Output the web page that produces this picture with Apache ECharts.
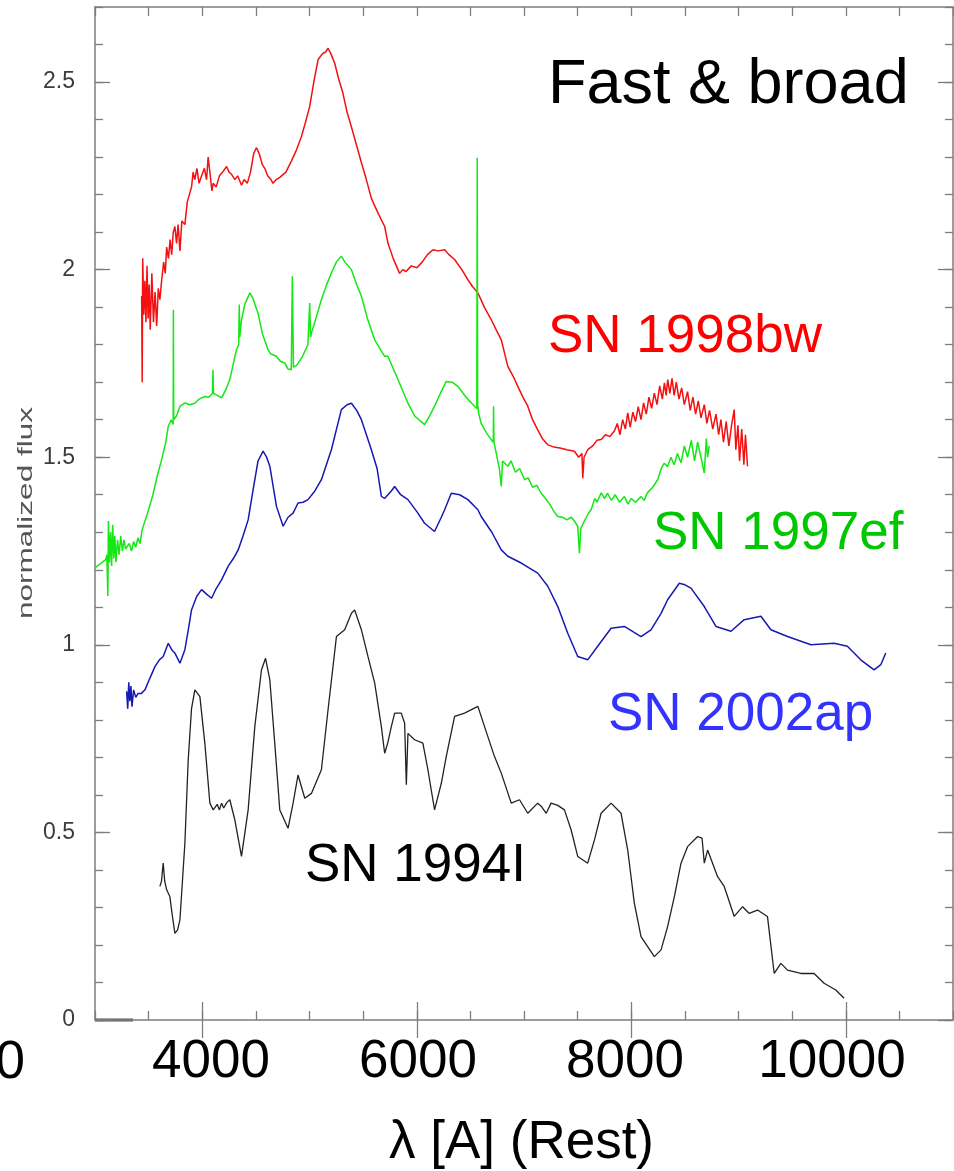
<!DOCTYPE html>
<html>
<head>
<meta charset="utf-8">
<script src="https://cdn.jsdelivr.net/npm/echarts@6/dist/echarts.min.js"></script>
<style>
html, body { margin: 0; padding: 0; background: #fff; }
#main { width: 954px; height: 1171px; }
</style>
</head>
<body>
<div id="main"></div>
<script>
// wavelength [A], normalized flux (offset spectra as in the plot)
var sn1998bw = [[3435,1.93],[3440,1.70],[3445,2.03],[3455,1.88],[3465,1.97],[3475,1.86],[3485,2.01],[3495,1.87],[3505,1.96],[3515,1.84],[3530,1.99],[3545,1.86],[3560,1.94],[3575,1.85],[3590,1.95],[3605,1.92],[3621,1.97],[3640,2.02],[3655,1.99],[3668,2.06],[3685,2.03],[3700,2.08],[3715,2.04],[3730,2.10],[3745,2.115],[3760,2.07],[3775,2.12],[3792,2.05],[3810,2.13],[3838,2.12],[3860,2.18],[3880,2.20],[3900,2.22],[3915,2.26],[3931,2.24],[3950,2.27],[3970,2.23],[3994,2.25],[4020,2.27],[4040,2.24],[4055,2.30],[4075,2.25],[4090,2.21],[4102,2.23],[4130,2.22],[4160,2.25],[4190,2.26],[4227,2.275],[4250,2.26],[4270,2.255],[4304,2.24],[4330,2.25],[4366,2.225],[4390,2.24],[4420,2.23],[4450,2.26],[4480,2.31],[4506,2.325],[4530,2.31],[4560,2.28],[4583,2.27],[4610,2.25],[4640,2.24],[4660,2.23],[4690,2.24],[4720,2.245],[4739,2.25],[4780,2.26],[4832,2.29],[4880,2.32],[4925,2.355],[4960,2.39],[5002,2.435],[5040,2.50],[5080,2.56],[5120,2.575],[5150,2.58],[5173,2.59],[5200,2.575],[5235,2.55],[5270,2.51],[5312,2.47],[5350,2.42],[5391,2.38],[5440,2.33],[5484,2.285],[5530,2.24],[5577,2.19],[5640,2.15],[5701,2.115],[5732,2.07],[5780,2.03],[5840,1.99],[5870,2.00],[5900,1.995],[5949,2.01],[6000,2.005],[6050,2.02],[6100,2.04],[6151,2.053],[6200,2.05],[6260,2.053],[6300,2.04],[6353,2.027],[6420,2.00],[6477,1.973],[6520,1.955],[6570,1.938],[6630,1.90],[6694,1.867],[6740,1.84],[6788,1.813],[6849,1.742],[6900,1.715],[6942,1.689],[6990,1.66],[7035,1.636],[7080,1.60],[7128,1.573],[7170,1.55],[7222,1.533],[7280,1.527],[7346,1.524],[7400,1.52],[7470,1.516],[7510,1.50],[7540,1.51],[7548,1.444],[7560,1.50],[7594,1.52],[7640,1.53],[7680,1.545],[7719,1.547],[7760,1.56],[7800,1.555],[7843,1.57],[7870,1.59],[7895,1.56],[7920,1.60],[7945,1.575],[7967,1.618],[7990,1.58],[8015,1.62],[8040,1.595],[8065,1.635],[8091,1.60],[8115,1.645],[8140,1.615],[8165,1.66],[8190,1.63],[8215,1.671],[8240,1.64],[8265,1.69],[8290,1.655],[8309,1.698],[8325,1.665],[8340,1.707],[8360,1.67],[8380,1.71],[8400,1.665],[8420,1.70],[8445,1.655],[8470,1.685],[8495,1.64],[8525,1.675],[8550,1.625],[8575,1.66],[8600,1.615],[8625,1.65],[8650,1.605],[8681,1.64],[8705,1.59],[8730,1.625],[8760,1.575],[8790,1.615],[8815,1.56],[8836,1.60],[8860,1.54],[8885,1.595],[8910,1.53],[8935,1.585],[8960,1.627],[8975,1.52],[8995,1.585],[9010,1.49],[9030,1.575],[9050,1.48],[9065,1.56],[9084,1.476]];

var sn1997ef = [[3000,1.205],[3100,1.227],[3110,1.24],[3120,1.13],[3125,1.33],[3135,1.22],[3145,1.30],[3155,1.21],[3165,1.32],[3175,1.23],[3185,1.29],[3195,1.22],[3210,1.28],[3225,1.24],[3240,1.29],[3255,1.25],[3270,1.28],[3285,1.255],[3300,1.262],[3320,1.27],[3340,1.25],[3360,1.275],[3380,1.26],[3400,1.285],[3420,1.27],[3440,1.307],[3466,1.33],[3500,1.36],[3540,1.40],[3580,1.45],[3621,1.493],[3660,1.54],[3683,1.582],[3710,1.60],[3729,1.587],[3731,1.893],[3734,1.60],[3760,1.61],[3792,1.636],[3840,1.645],[3880,1.64],[3931,1.644],[3970,1.655],[4024,1.662],[4060,1.66],[4095,1.67],[4100,1.733],[4105,1.67],[4140,1.665],[4180,1.658],[4220,1.68],[4257,1.707],[4290,1.75],[4320,1.787],[4340,1.80],[4345,1.907],[4350,1.82],[4366,1.867],[4400,1.91],[4444,1.938],[4470,1.925],[4520,1.884],[4560,1.83],[4613,1.787],[4640,1.775],[4692,1.769],[4730,1.755],[4770,1.751],[4800,1.735],[4830,1.733],[4840,1.982],[4850,1.74],[4880,1.745],[4935,1.769],[4985,1.80],[5002,1.911],[5010,1.82],[5018,1.831],[5060,1.87],[5111,1.92],[5160,1.96],[5204,1.991],[5250,2.02],[5297,2.036],[5330,2.02],[5391,2.0],[5440,1.96],[5484,1.929],[5540,1.87],[5608,1.813],[5701,1.769],[5731,1.769],[5825,1.707],[5918,1.644],[5980,1.61],[6073,1.587],[6120,1.61],[6166,1.636],[6220,1.67],[6275,1.702],[6330,1.70],[6383,1.689],[6460,1.66],[6539,1.636],[6560,1.63],[6564,2.298],[6568,1.64],[6576,1.618],[6601,1.59],[6650,1.565],[6694,1.547],[6714,1.54],[6716,1.636],[6720,1.54],[6741,1.511],[6770,1.47],[6788,1.422],[6800,1.49],[6849,1.476],[6880,1.49],[6920,1.46],[6960,1.47],[7005,1.44],[7040,1.445],[7080,1.42],[7120,1.425],[7160,1.404],[7200,1.39],[7240,1.375],[7280,1.355],[7315,1.342],[7360,1.34],[7400,1.333],[7440,1.34],[7470,1.33],[7501,1.316],[7517,1.244],[7530,1.31],[7563,1.33],[7600,1.35],[7626,1.36],[7660,1.39],[7680,1.38],[7720,1.405],[7750,1.39],[7780,1.404],[7815,1.385],[7850,1.40],[7890,1.38],[7936,1.395],[7970,1.375],[8000,1.39],[8040,1.38],[8091,1.395],[8120,1.385],[8150,1.405],[8200,1.42],[8246,1.44],[8280,1.47],[8308,1.484],[8339,1.475],[8370,1.50],[8400,1.48],[8430,1.51],[8464,1.485],[8495,1.53],[8525,1.50],[8560,1.545],[8590,1.49],[8619,1.54],[8650,1.50],[8681,1.458],[8700,1.55],[8712,1.50],[8727,1.53]];

var sn2002ap = [[3295,0.876],[3305,0.83],[3315,0.90],[3325,0.85],[3335,0.89],[3345,0.835],[3360,0.88],[3380,0.86],[3400,0.87],[3430,0.87],[3466,0.88],[3510,0.91],[3559,0.942],[3600,0.96],[3636,0.969],[3683,1.004],[3720,0.985],[3745,0.978],[3792,0.951],[3807,0.951],[3838,0.987],[3870,1.04],[3900,1.093],[3950,1.13],[3994,1.147],[4040,1.135],[4087,1.124],[4130,1.15],[4180,1.173],[4241,1.209],[4290,1.23],[4335,1.253],[4380,1.29],[4428,1.333],[4474,1.413],[4520,1.49],[4567,1.516],[4600,1.50],[4630,1.476],[4692,1.369],[4754,1.316],[4800,1.34],[4847,1.351],[4893,1.378],[4940,1.38],[4986,1.387],[5050,1.41],[5111,1.44],[5204,1.52],[5297,1.627],[5350,1.64],[5391,1.644],[5440,1.625],[5484,1.60],[5577,1.52],[5630,1.47],[5670,1.396],[5700,1.39],[5763,1.41],[5794,1.422],[5850,1.40],[5918,1.387],[6011,1.351],[6073,1.324],[6166,1.302],[6229,1.34],[6260,1.36],[6322,1.404],[6400,1.40],[6477,1.387],[6570,1.36],[6601,1.342],[6700,1.30],[6788,1.253],[6849,1.236],[6974,1.218],[7128,1.191],[7222,1.156],[7315,1.102],[7408,1.031],[7501,0.969],[7594,0.96],[7687,0.996],[7812,1.044],[7936,1.049],[8091,1.022],[8184,1.04],[8278,1.084],[8339,1.12],[8448,1.164],[8500,1.16],[8557,1.151],[8681,1.102],[8790,1.049],[8930,1.036],[9053,1.067],[9209,1.076],[9302,1.04],[9457,1.022],[9675,1.0],[9892,1.004],[10015,0.996],[10140,0.96],[10264,0.933],[10327,0.947],[10373,0.978]];

var sn1994I = [[3605,0.356],[3620,0.37],[3636,0.418],[3650,0.37],[3668,0.347],[3698,0.329],[3720,0.28],[3745,0.231],[3770,0.24],[3792,0.267],[3838,0.471],[3869,0.693],[3900,0.83],[3931,0.88],[3978,0.862],[4024,0.738],[4071,0.578],[4102,0.56],[4140,0.575],[4160,0.56],[4180,0.578],[4200,0.565],[4230,0.58],[4257,0.587],[4304,0.533],[4366,0.436],[4428,0.56],[4490,0.782],[4552,0.933],[4590,0.964],[4630,0.907],[4676,0.738],[4723,0.56],[4800,0.511],[4847,0.578],[4893,0.653],[4956,0.591],[5018,0.604],[5111,0.667],[5173,0.827],[5251,1.022],[5328,1.04],[5391,1.084],[5421,1.093],[5484,1.04],[5545,0.969],[5608,0.898],[5670,0.782],[5701,0.711],[5731,0.74],[5763,0.782],[5794,0.818],[5856,0.818],[5887,0.791],[5903,0.627],[5918,0.764],[5980,0.747],[6057,0.738],[6104,0.667],[6166,0.56],[6229,0.631],[6275,0.702],[6353,0.809],[6446,0.818],[6570,0.836],[6632,0.782],[6725,0.702],[6788,0.658],[6881,0.578],[6958,0.587],[7035,0.551],[7128,0.578],[7160,0.57],[7207,0.551],[7253,0.578],[7315,0.572],[7377,0.56],[7439,0.507],[7501,0.436],[7594,0.418],[7657,0.48],[7719,0.551],[7812,0.578],[7905,0.551],[7967,0.453],[8029,0.311],[8091,0.222],[8215,0.169],[8278,0.187],[8339,0.249],[8402,0.329],[8464,0.418],[8525,0.462],[8619,0.489],[8660,0.485],[8681,0.418],[8712,0.453],[8805,0.382],[8867,0.356],[8960,0.276],[9038,0.302],[9100,0.284],[9177,0.293],[9270,0.276],[9333,0.124],[9395,0.151],[9457,0.133],[9581,0.124],[9705,0.124],[9798,0.098],[9907,0.08],[9985,0.058]];

var majorX = [4000, 6000, 8000, 10000];
var majorY = [0, 0.5, 1, 1.5, 2, 2.5];
var bigXLabels = [4000, 6000, 8000, 10000];

var font = 'Liberation Sans, Arial, Helvetica, sans-serif';
var frameColor = '#7d7d7d';

function minorAxis(pos, isX) {
  var a = {
    type: 'value', gridIndex: 0, position: pos,
    axisLine: { onZero: false, lineStyle: { color: frameColor, width: 1.5 } },
    axisTick: { inside: true, length: isX ? 9 : 8, lineStyle: { color: frameColor, width: 1.3 } },
    axisLabel: { show: false },
    splitLine: { show: false }
  };
  if (isX) { a.min = 3000; a.max = 11000; a.interval = 500; }
  else { a.min = 0; a.max = 2.7; a.interval = 0.1; }
  return a;
}
function majorAxis(pos, isX) {
  var a = {
    type: 'value', gridIndex: 0, position: pos,
    axisLine: { show: false },
    axisTick: { inside: true, length: isX ? 18 : 15, customValues: isX ? majorX : majorY,
      lineStyle: { color: frameColor, width: 1.3 } },
    axisLabel: { show: false },
    splitLine: { show: false }
  };
  if (isX) { a.min = 3000; a.max = 11000; }
  else { a.min = 0; a.max = 2.7; }
  return a;
}

var yLeft = minorAxis('left', false);
yLeft.axisLabel = { show: true, customValues: majorY, fontSize: 23, color: '#3c3c3c', margin: 20, fontFamily: font,
  formatter: function (v) { return String(v); } };

var myChart = echarts.init(document.getElementById('main'));
myChart.setOption({
  animation: false,
  backgroundColor: '#fff',
  grid: [
    { left: 95, right: 1, top: 7, bottom: 151, containLabel: false, outerBoundsMode: 'none' },
    { left: 211, right: 122, top: 7, bottom: 151, containLabel: false, outerBoundsMode: 'none' }
  ],
  xAxis: [
    minorAxis('bottom', true),
    majorAxis('bottom', true),
    minorAxis('top', true),
    majorAxis('top', true),
    {
      type: 'value', gridIndex: 1, min: 4000, max: 10000, interval: 2000,
      axisLine: { show: false }, axisTick: { show: false }, splitLine: { show: false },
      axisLabel: { customValues: bigXLabels, fontSize: 53, color: '#000', margin: 16, fontFamily: font,
        formatter: function (v) { return String(v); } },
      name: 'λ [A] (Rest)', nameLocation: 'middle', nameGap: 97,
      nameTextStyle: { fontSize: 53, color: '#000', fontFamily: font }
    }
  ],
  yAxis: [
    yLeft,
    majorAxis('left', false),
    minorAxis('right', false),
    majorAxis('right', false),
    { type: 'value', gridIndex: 1, min: 0, max: 2.7, show: false }
  ],
  series: [
    { name: 'SN 1998bw', type: 'line', data: sn1998bw, xAxisIndex: 0, yAxisIndex: 0,
      showSymbol: false, symbol: 'none', lineStyle: { color: '#f41010', width: 1.5 } },
    { name: 'SN 1997ef', type: 'line', data: sn1997ef, xAxisIndex: 0, yAxisIndex: 0,
      showSymbol: false, symbol: 'none', lineStyle: { color: '#14e814', width: 1.5 } },
    { name: 'SN 2002ap', type: 'line', data: sn2002ap, xAxisIndex: 0, yAxisIndex: 0,
      showSymbol: false, symbol: 'none', lineStyle: { color: '#1818b4', width: 1.5 } },
    { name: 'SN 1994I', type: 'line', data: sn1994I, xAxisIndex: 0, yAxisIndex: 0,
      showSymbol: false, symbol: 'none', lineStyle: { color: '#222', width: 1.3 } }
  ],
  graphic: [
    { type: 'line', shape: { x1: 95, y1: 1020, x2: 133, y2: 1020 }, style: { stroke: '#555', lineWidth: 3 } },
    { type: 'text', x: 25, y: 1063, style: { text: '2000', fill: '#000', font: '53px ' + font, align: 'right', verticalAlign: 'middle' } },
    // y-axis title, stretched along its reading direction like the source figure
    { type: 'text', x: 26, y: 513, rotation: Math.PI / 2, scaleX: 1.5,
      style: { text: 'normalized flux', fill: '#555', font: '21px ' + font, align: 'center', verticalAlign: 'middle' } },
    { type: 'text', x: 548, y: 86, style: { text: 'Fast & broad', fill: '#000', font: '63px ' + font, verticalAlign: 'middle' } },
    { type: 'text', x: 548, y: 337, style: { text: 'SN 1998bw', fill: '#ff0000', font: '53px ' + font, verticalAlign: 'middle' } },
    { type: 'text', x: 653, y: 534, style: { text: 'SN 1997ef', fill: '#00c800', font: '53px ' + font, verticalAlign: 'middle' } },
    { type: 'text', x: 608, y: 715, style: { text: 'SN 2002ap', fill: '#3333ff', font: '53px ' + font, verticalAlign: 'middle' } },
    { type: 'text', x: 305, y: 866, style: { text: 'SN 1994I', fill: '#000', font: '53px ' + font, verticalAlign: 'middle' } }
  ]
});
</script>
</body>
</html>
